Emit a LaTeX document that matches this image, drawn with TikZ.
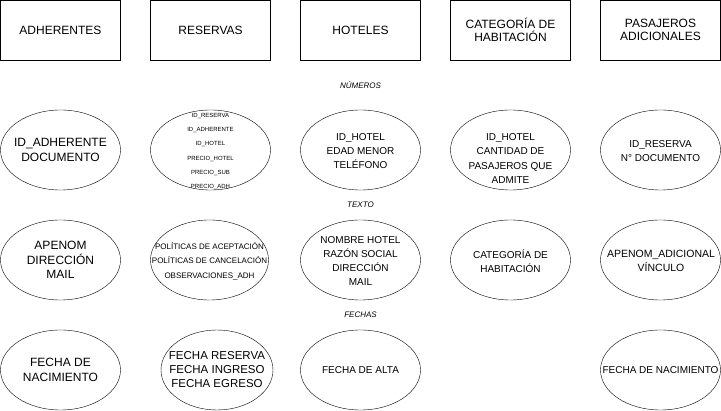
\documentclass[tikz,border=0pt]{standalone}
\usepackage{fontspec}
\setmainfont{Liberation Sans}
\usetikzlibrary{shapes.geometric}

\begin{document}
\begin{tikzpicture}[x=1pt,y=-1pt,
  tabla/.style={draw,minimum width=120pt,minimum height=60pt,align=center,font=\fontsize{12}{13.5}\selectfont},
  atrib/.style={draw,ellipse,minimum width=120pt,minimum height=80pt,inner sep=0pt},
  grande/.style={align=center,inner sep=0pt,font=\fontsize{12}{14.3}\selectfont},
  medio/.style={align=center,inner sep=0pt,font=\fontsize{10}{14.3}\selectfont},
  chico/.style={align=center,inner sep=0pt,font=\fontsize{8}{14.5}\selectfont},
  mini/.style={align=center,inner sep=0pt,font=\fontsize{6}{14.3}\selectfont},
  tipo/.style={inner sep=0pt,font=\fontsize{8}{9}\selectfont\itshape}]

\useasboundingbox (0,0) rectangle (721,411);

\node[tabla] (adh) at (60.5,30) {ADHERENTES};
\node[tabla] (res) at (210.5,30) {RESERVAS};
\node[tabla] (hot) at (360.5,30) {HOTELES};
\node[tabla] (cat) at (510.5,30) {CATEGORÍA DE\\HABITACIÓN};
\node[tabla] (pas) at (660.5,30) {PASAJEROS\\ADICIONALES};

\node[tipo] (num) at (360.5,85) {NÚMEROS};
\node[tipo] (tex) at (360.5,205) {TEXTO};
\node[tipo] (fec) at (360.5,315) {FECHAS};

\node[atrib] (adhNum) at (60.5,150) {};
\node[atrib] (resNum) at (210.5,150) {};
\node[atrib] (hotNum) at (360.5,150) {};
\node[atrib] (catNum) at (510.5,150) {};
\node[atrib] (pasNum) at (660.5,150) {};

\node[grande] (adhNumT) at (60.5,150) {ID\_ADHERENTE\\DOCUMENTO};
\node[mini] (resNumT) at (210.5,151.5) {ID\_RESERVA\\ID\_ADHERENTE\\ID\_HOTEL\\PRECIO\_HOTEL\\PRECIO\_SUB\\PRECIO\_ADH};
\node[medio] (hotNumT) at (360.5,151) {ID\_HOTEL\\EDAD MENOR\\TELÉFONO};
\node[medio] (catNumT) at (510.5,158.5) {ID\_HOTEL\\CANTIDAD DE\\PASAJEROS QUE\\ADMITE};
\node[medio] (pasNumT) at (660.5,151) {ID\_RESERVA\\N° DOCUMENTO};

\node[atrib] (adhTex) at (60.5,260) {};
\node[atrib,minimum width=118pt] (resTex) at (209.5,260) {};
\node[atrib] (hotTex) at (360.5,260) {};
\node[atrib] (catTex) at (510.5,260) {};
\node[atrib] (pasTex) at (660.5,260) {};

\node[grande] (adhTexT) at (60.5,260) {APENOM\\DIRECCIÓN\\MAIL};
\node[chico] (resTexT) at (209.5,261) {POLÍTICAS DE ACEPTACIÓN\\POLÍTICAS DE CANCELACIÓN\\OBSERVACIONES\_ADH};
\node[medio] (hotTexT) at (360.5,261) {NOMBRE HOTEL\\RAZÓN SOCIAL\\DIRECCIÓN\\MAIL};
\node[medio] (catTexT) at (510.5,261) {CATEGORÍA DE\\HABITACIÓN};
\node[medio,font=\fontsize{10.5}{14}\selectfont] (pasTexT) at (661,261) {APENOM\_ADICIONAL\\VÍNCULO};

\node[atrib] (adhFec) at (60.5,370) {};
\node[atrib,minimum width=112pt] (resFec) at (217,370) {};
\node[atrib] (hotFec) at (360.5,370) {};
\node[atrib] (pasFec) at (660.5,370) {};

\node[grande] (adhFecT) at (60.5,370) {FECHA DE\\NACIMIENTO};
\node[grande,font=\fontsize{11.5}{14}\selectfont] (resFecT) at (217,369.5) {FECHA RESERVA\\FECHA INGRESO\\FECHA EGRESO};
\node[medio] (hotFecT) at (360.5,370) {FECHA DE ALTA};
\node[medio] (pasFecT) at (660.5,370) {FECHA DE NACIMIENTO};

\end{tikzpicture}
\end{document}
